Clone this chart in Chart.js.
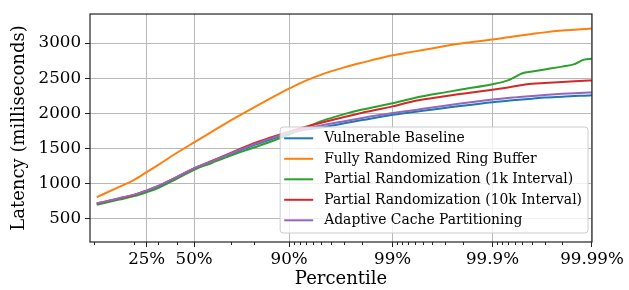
<!DOCTYPE html>
<html>
<head>
<meta charset="utf-8">
<script src="https://cdn.jsdelivr.net/npm/chart.js@4"></script>
<style>
  html, body { margin: 0; padding: 0; background: #fff; }
  #chart { display: block; }
</style>
</head>
<body>
<canvas id="chart" width="629" height="290"></canvas>
<script>
// percentiles (x axis is a logit scale)
const percentiles = [0.095, 0.15, 0.2, 0.25, 0.3, 0.4, 0.5, 0.6, 0.7, 0.8, 0.85, 0.9, 0.93, 0.95, 0.97, 0.98,
    0.99, 0.993, 0.995, 0.997, 0.998, 0.999, 0.9993, 0.9994, 0.9995, 0.9996, 0.9997, 0.9998, 0.99985, 0.99988, 0.9999];

const vulnerableBaseline = [712, 787, 838, 898, 955, 1088, 1210, 1309, 1418, 1549, 1622, 1720, 1770, 1800, 1860, 1905,
    1980, 2010, 2037, 2078, 2110, 2160, 2181, 2190, 2198, 2210, 2225, 2238, 2247, 2252, 2257];
const fullyRandomized = [810, 955, 1055, 1165, 1262, 1437, 1588, 1738, 1901, 2087, 2203, 2351, 2465, 2552, 2655, 2722,
    2826, 2865, 2901, 2957, 2997, 3050, 3082, 3096, 3112, 3130, 3152, 3177, 3190, 3200, 3206];
const partial1k = [700, 775, 825, 880, 935, 1070, 1198, 1295, 1400, 1515, 1590, 1700, 1800, 1890, 1990, 2055,
    2145, 2198, 2243, 2299, 2343, 2415, 2470, 2515, 2572, 2595, 2625, 2665, 2700, 2765, 2778];
const partial10k = [718, 792, 843, 903, 963, 1095, 1220, 1325, 1440, 1578, 1650, 1740, 1810, 1867, 1950, 2010,
    2100, 2155, 2197, 2245, 2280, 2338, 2370, 2385, 2405, 2420, 2432, 2448, 2458, 2464, 2468];
const adaptivePartitioning = [722, 795, 845, 905, 965, 1095, 1218, 1318, 1430, 1560, 1635, 1728, 1780, 1830, 1890, 1935,
    2005, 2035, 2065, 2110, 2145, 2197, 2220, 2228, 2237, 2248, 2262, 2278, 2288, 2294, 2298];

const seriesNames = ['Vulnerable Baseline', 'Fully Randomized Ring Buffer', 'Partial Randomization (1k Interval)',
    'Partial Randomization (10k Interval)', 'Adaptive Cache Partitioning'];
const seriesValues = [vulnerableBaseline, fullyRandomized, partial1k, partial10k, adaptivePartitioning];
const seriesColors = ['#1f77b4', '#ff7f0e', '#2ca02c', '#d62728', '#9467bd'];

const xTickPercentiles = [0.25, 0.5, 0.9, 0.99, 0.999, 0.9999];
const xTickLabels = ['25%', '50%', '90%', '99%', '99.9%', '99.99%'];
const xMinorPercentiles = [0.09, 0.2, 0.3, 0.4, 0.7, 0.8,
    0.91, 0.92, 0.93, 0.94, 0.95, 0.96, 0.97, 0.98,
    0.991, 0.992, 0.993, 0.994, 0.995, 0.996, 0.997, 0.998,
    0.9991, 0.9992, 0.9993, 0.9994, 0.9995, 0.9996, 0.9997, 0.9998];
const yTicks = [500, 1000, 1500, 2000, 2500, 3000];
const yTickLabels = ['500', '1000', '1500', '2000', '2500', '3000'];

function logit(p) {
    return Math.log10(p / (1 - p));
}

const serif = "'DejaVu Serif', serif";
Chart.defaults.font.family = serif;
Chart.defaults.color = '#000';

// frame + minor ticks on x axis
const framePlugin = {
    id: 'frame',
    afterDraw(chart) {
        const ctx = chart.ctx;
        const a = chart.chartArea;
        const xs = chart.scales.x;
        ctx.save();
        ctx.strokeStyle = '#222';
        ctx.lineWidth = 1;
        xMinorPercentiles.forEach(p => {
            const px = Math.round(xs.getPixelForValue(logit(p))) + 0.5;
            if (px < a.left || px > a.right) return;
            ctx.beginPath();
            ctx.moveTo(px, a.bottom);
            ctx.lineTo(px, a.bottom + 3);
            ctx.stroke();
        });
        ctx.lineWidth = 1.2;
        ctx.strokeRect(a.left, a.top, a.right - a.left, a.bottom - a.top);
        ctx.restore();
    }
};

// matplotlib style legend in lower right of plot
const insideLegend = {
    id: 'insideLegend',
    afterDatasetsDraw(chart) {
        const ctx = chart.ctx;
        const a = chart.chartArea;
        ctx.save();
        ctx.font = '13.9px ' + serif;
        const textW = Math.max(...seriesNames.map(n => ctx.measureText(n).width));
        const rowH = 20.5;
        const w = 4 + 29 + 11 + textW + 6;
        const h = rowH * seriesNames.length + 3.5;
        const x0 = a.right - 4 - w;
        const y0 = a.bottom - 9 - h;
        ctx.beginPath();
        ctx.roundRect(x0, y0, w, h, 3);
        ctx.fillStyle = 'rgba(255,255,255,0.8)';
        ctx.fill();
        ctx.strokeStyle = '#cccccc';
        ctx.lineWidth = 1;
        ctx.stroke();
        seriesNames.forEach((name, i) => {
            const cy = y0 + 11.3 + i * rowH;
            ctx.strokeStyle = seriesColors[i];
            ctx.lineWidth = 2;
            ctx.beginPath();
            ctx.moveTo(x0 + 4, cy);
            ctx.lineTo(x0 + 33, cy);
            ctx.stroke();
            ctx.fillStyle = '#000';
            ctx.textBaseline = 'middle';
            ctx.fillText(name, x0 + 44, cy + 0.5);
        });
        ctx.restore();
    }
};

new Chart(document.getElementById('chart'), {
    type: 'line',
    data: {
        datasets: seriesNames.map((name, i) => ({
            label: name,
            data: percentiles.map((p, j) => ({ x: logit(p), y: seriesValues[i][j] })),
            borderColor: seriesColors[i],
            backgroundColor: seriesColors[i],
            borderWidth: 2,
            pointRadius: 0,
            cubicInterpolationMode: 'monotone',
            fill: false,
            order: seriesNames.length - i
        }))
    },
    options: {
        responsive: false,
        animation: false,
        layout: { padding: { top: 12, right: 37, left: 0, bottom: 0 } },
        plugins: {
            legend: { display: false },
            tooltip: { enabled: false }
        },
        scales: {
            x: {
                type: 'linear',
                min: -1.047,
                max: 4.0,
                afterBuildTicks: scale => {
                    scale.ticks = xTickPercentiles.map(p => ({ value: logit(p) }));
                },
                afterFit: scale => { scale.height = 48; },
                ticks: {
                    autoSkip: false,
                    maxRotation: 0,
                    padding: 3,
                    font: { size: 16.7 },
                    callback: (value, index) => xTickLabels[index]
                },
                grid: { color: '#b8b8b8', lineWidth: 1, tickColor: '#222', tickLength: 5 },
                border: { display: false },
                title: { display: true, text: 'Percentile', font: { size: 18 }, padding: { top: 0, bottom: 0 } }
            },
            y: {
                type: 'linear',
                min: 172,
                max: 3413,
                afterBuildTicks: scale => {
                    scale.ticks = yTicks.map(v => ({ value: v }));
                },
                afterFit: scale => { scale.width = 90; },
                ticks: {
                    padding: 4,
                    font: { size: 16.7 },
                    callback: (value, index) => yTickLabels[index]
                },
                grid: { color: '#b8b8b8', lineWidth: 1, tickColor: '#222', tickLength: 5 },
                border: { display: false },
                title: { display: true, text: 'Latency (milliseconds)', font: { size: 18 }, padding: { top: 9, bottom: 0 } }
            }
        }
    },
    plugins: [insideLegend, framePlugin]
});
</script>
</body>
</html>
